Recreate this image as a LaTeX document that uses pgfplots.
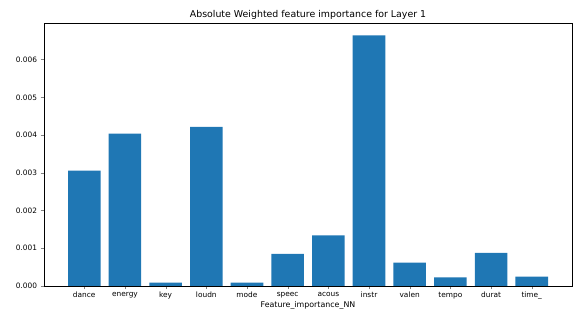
\documentclass[border=0pt]{standalone}
\usepackage{pgfplots}
\pgfplotsset{compat=1.18}
\usepackage{fontspec}
\setmainfont{DejaVu Sans}
\definecolor{mplblue}{HTML}{1F77B4}
\begin{document}
\begin{tikzpicture}[x=1pt,y=1pt]
\path[use as bounding box] (-44,-26) rectangle (532,286);
\begin{axis}[
  at={(0,0)}, anchor=south west,
  scale only axis, width=528pt, height=263pt,
  xmin=-0.99, xmax=11.99, ymin=0, ymax=0.00697,
  xtick={0,...,11},
  xticklabels={dance,energy,key,loudn,mode,speec,acous,instr,valen,tempo,durat,time\_},
  ytick={0,0.001,0.002,0.003,0.004,0.005,0.006},
  scaled y ticks=false,
  yticklabel style={/pgf/number format/.cd,fixed,precision=3,zerofill,assume math mode=true},
  tick label style={font=\fontsize{7.4}{8.5}\selectfont},
  xticklabel style={yshift=1pt},
  tick align=outside, tick pos=left,
  major tick length=3.5pt,
  axis line style={black, line width=0.6pt},
  title={Absolute Weighted feature importance for Layer 1},
  title style={font=\fontsize{9.4}{11}\selectfont, yshift=-5.5pt},
  xlabel={Feature\_importance\_NN},
  xlabel style={font=\fontsize{7.9}{9}\selectfont, yshift=5pt},
]
\addplot[ybar, bar width=0.8, fill=mplblue, draw=none, bar shift=0pt] coordinates {
(0,0.00306) (1,0.00404) (2,0.00009) (3,0.00422) (4,0.00009) (5,0.00085)
(6,0.00134) (7,0.00664) (8,0.00062) (9,0.00023) (10,0.000875) (11,0.00025)
};
\end{axis}
\end{tikzpicture}
\end{document}
